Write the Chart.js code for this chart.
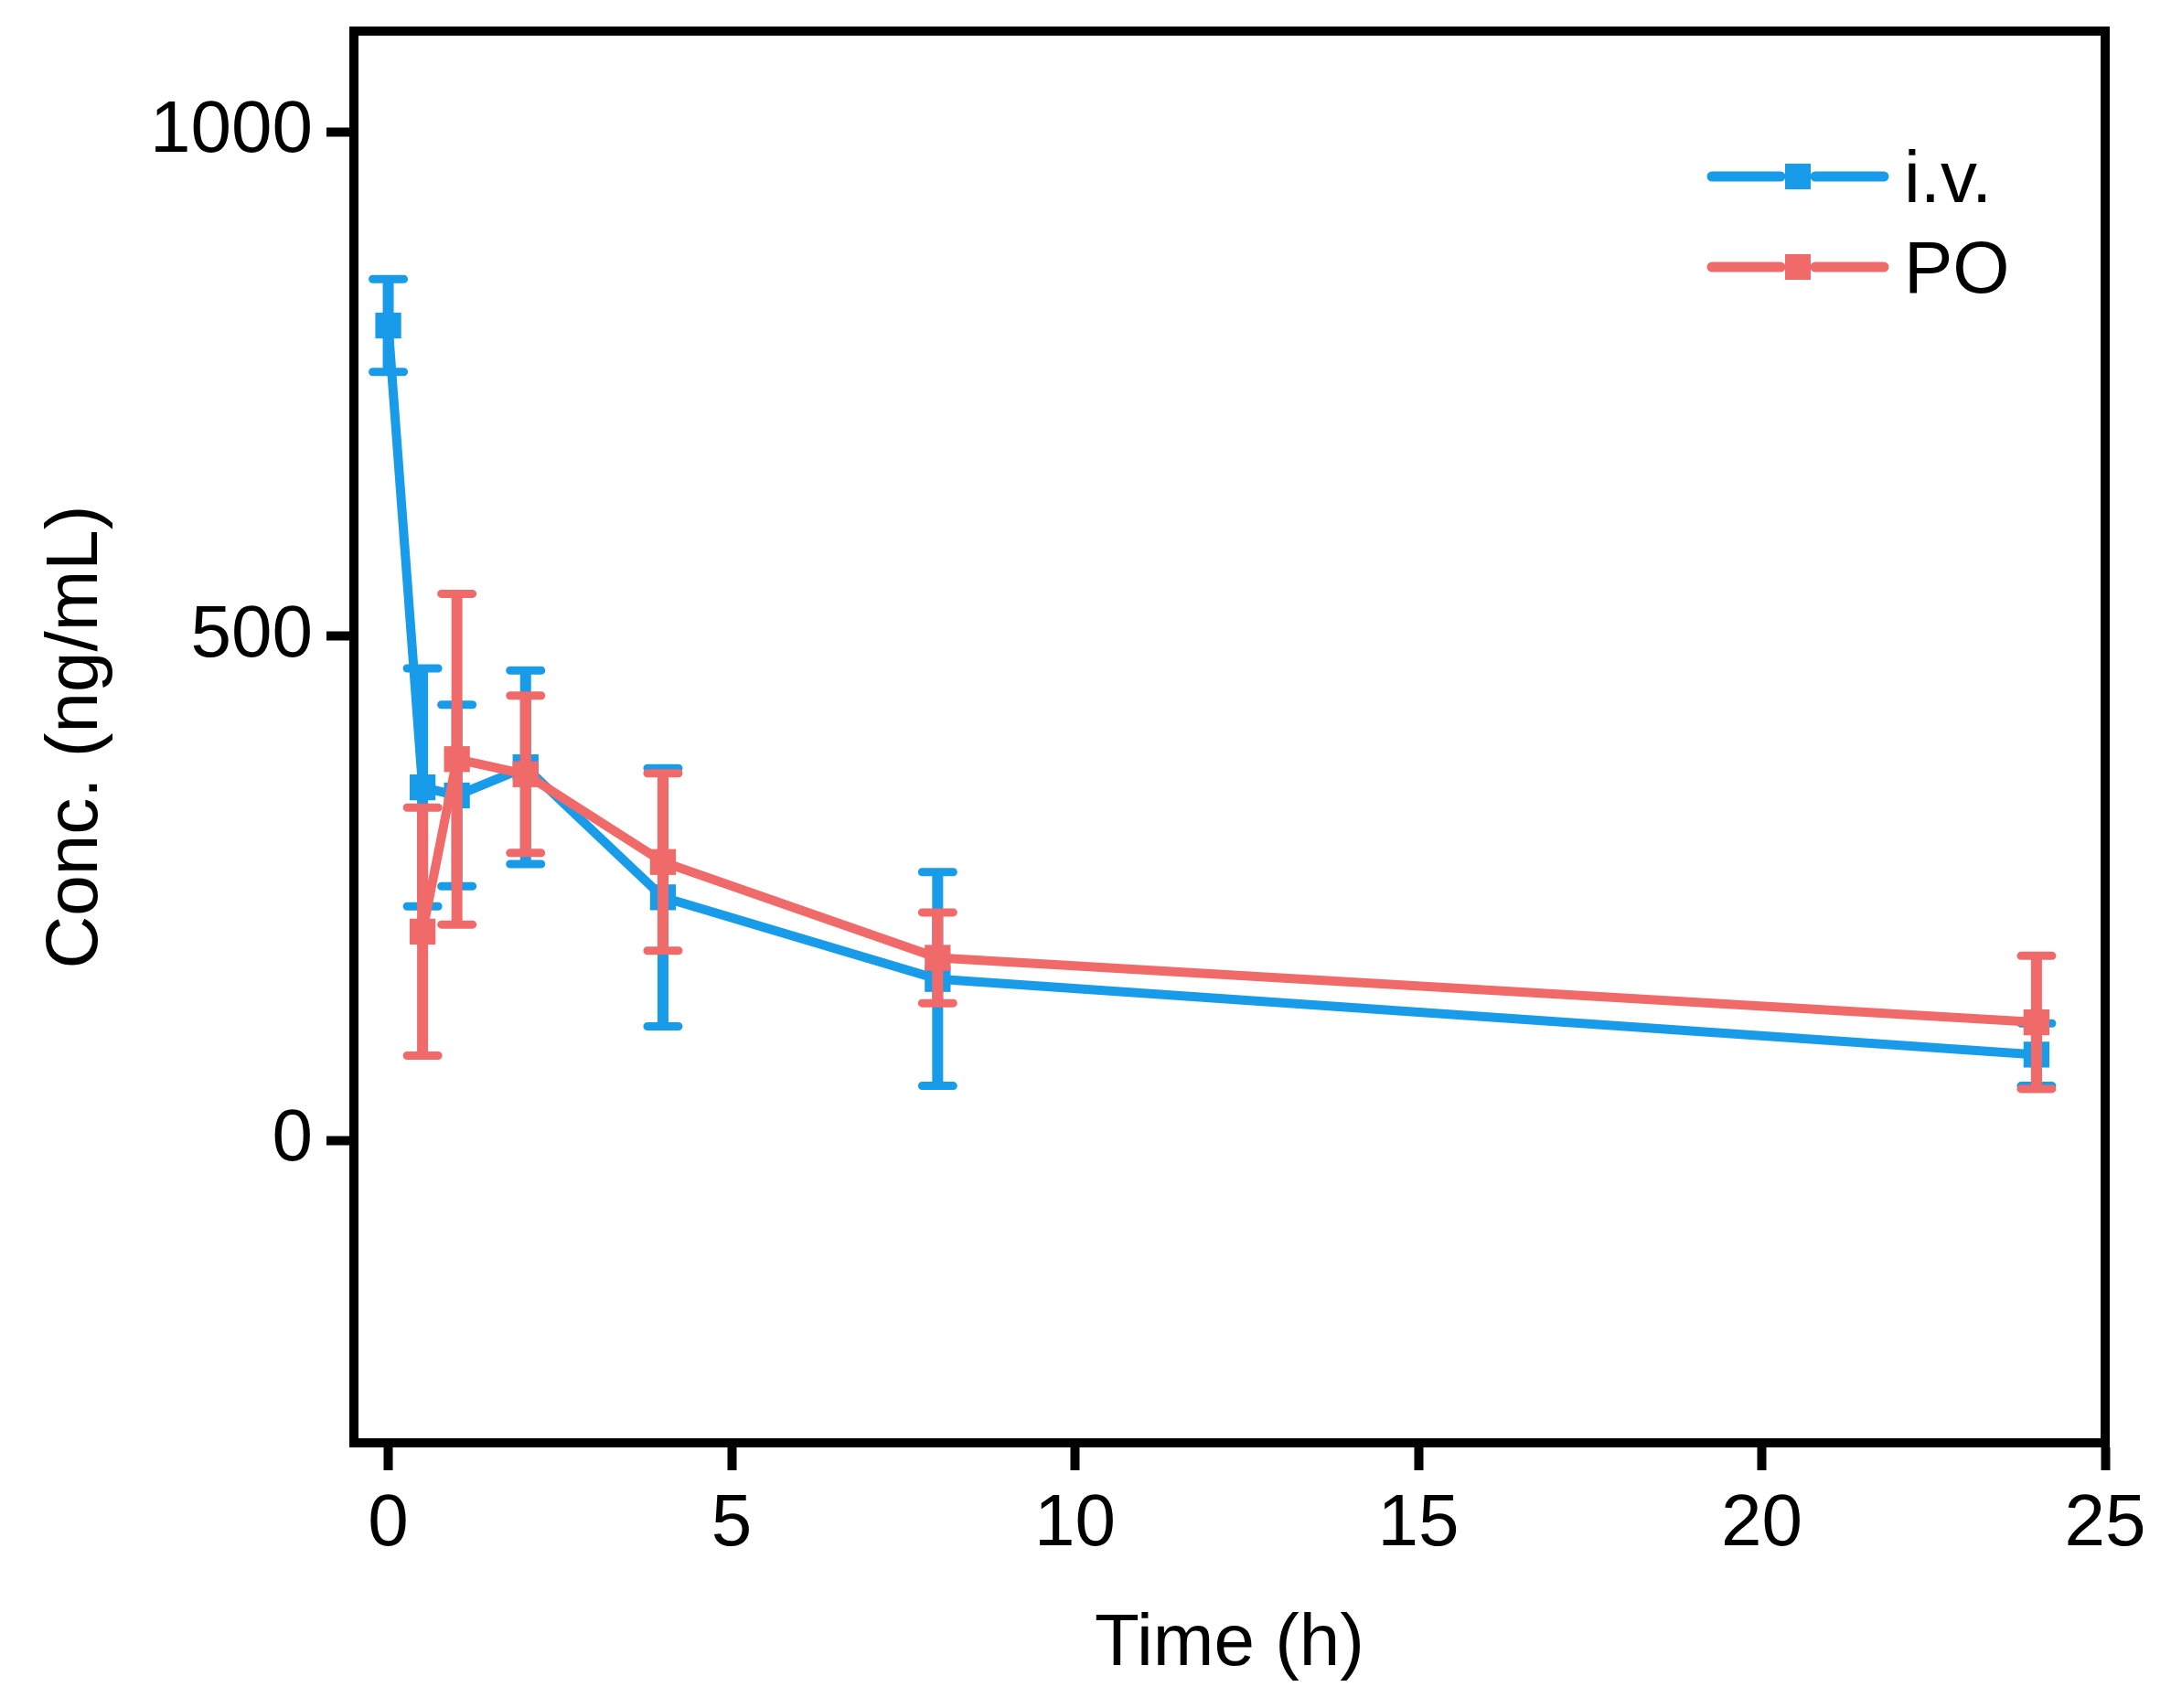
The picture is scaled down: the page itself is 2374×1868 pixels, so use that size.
<!DOCTYPE html>
<html>
<head>
<meta charset="utf-8">
<title>Conc. vs Time</title>
<script src="https://cdn.jsdelivr.net/npm/chart.js@4.4.1/dist/chart.umd.min.js"></script>
<style>
  html, body { margin: 0; padding: 0; background: #fff; overflow: hidden; }
  canvas { display: block; }
</style>
</head>
<body>
<canvas id="pkChart" width="2374" height="1868"></canvas>
<script>
// ====== Data ======
const ivTimes = [0, 0.5, 1, 2, 4, 8, 24];
const ivMean  = [808, 350, 342, 370, 241, 160, 85];
const ivSD    = [46, 118, 90, 96, 128, 106, 31];

const poTimes = [0.5, 1, 2, 4, 8, 24];
const poMean  = [207, 378, 363, 276, 181, 117];
const poSD    = [123, 164, 78, 88, 45, 66];

const xTicks = [0, 5, 10, 15, 20, 25];
const yTicks = [0, 500, 1000];

const BLUE = "#189be8";
const RED = "#f06a6a";

Chart.defaults.font.family = "'Liberation Sans', Arial, sans-serif";
Chart.defaults.color = "#000";

// error bars, drawn under each dataset's own line + markers
const errorBars = {
  id: "errorBars",
  beforeDatasetDraw(chart, args) {
    const ds = chart.data.datasets[args.index];
    if (!ds.sd) return;
    const { ctx, scales: { x, y } } = chart;
    ctx.save();
    ctx.strokeStyle = ds.borderColor;
    ds.data.forEach((p, i) => {
      const px = x.getPixelForValue(p.x);
      const top = y.getPixelForValue(p.y + ds.sd[i]);
      const bot = y.getPixelForValue(p.y - ds.sd[i]);
      ctx.lineWidth = 12;
      ctx.lineCap = "butt";
      ctx.beginPath();
      ctx.moveTo(px, top);
      ctx.lineTo(px, bot);
      ctx.stroke();
      ctx.lineWidth = 9;
      ctx.lineCap = "round";
      ctx.beginPath();
      ctx.moveTo(px - 17, top);
      ctx.lineTo(px + 17, top);
      ctx.moveTo(px - 17, bot);
      ctx.lineTo(px + 17, bot);
      ctx.stroke();
    });
    ctx.restore();
  }
};

// closes the box (top + right) and draws the legend inside the plot
const frameAndLegend = {
  id: "frameAndLegend",
  afterDraw(chart) {
    const { ctx, chartArea: a } = chart;
    ctx.save();
    ctx.strokeStyle = "#000";
    ctx.lineWidth = 10;
    ctx.beginPath();
    ctx.moveTo(a.left - 5, a.top);
    ctx.lineTo(a.right + 5, a.top);
    ctx.moveTo(a.right, a.top - 5);
    ctx.lineTo(a.right, a.bottom + 5);
    ctx.stroke();

    chart.data.datasets.forEach((ds, i) => {
      const ly = a.top + 159 + i * 99;
      const x0 = a.right - 430;
      const mx = x0 + 94;
      ctx.strokeStyle = ds.borderColor;
      ctx.lineWidth = 11;
      ctx.lineCap = "round";
      ctx.beginPath();
      ctx.moveTo(x0, ly);
      ctx.lineTo(mx - 19, ly);
      ctx.moveTo(mx + 19, ly);
      ctx.lineTo(x0 + 188, ly);
      ctx.stroke();
      ctx.fillStyle = ds.borderColor;
      ctx.fillRect(mx - 14, ly - 14, 28, 28);
      ctx.fillStyle = "#000";
      ctx.font = "80px 'Liberation Sans', Arial, sans-serif";
      ctx.textBaseline = "alphabetic";
      ctx.textAlign = "left";
      ctx.fillText(ds.label, x0 + 210, ly + 28);
    });
    ctx.restore();
  }
};

new Chart(document.getElementById("pkChart"), {
  type: "line",
  data: {
    datasets: [
      {
        label: "i.v.",
        data: ivTimes.map((t, i) => ({ x: t, y: ivMean[i] })),
        sd: ivSD,
        borderColor: BLUE,
        backgroundColor: BLUE,
        borderWidth: 10,
        pointStyle: "rect",
        pointRadius: 20,
        pointBorderWidth: 0,
        tension: 0,
        order: 1
      },
      {
        label: "PO",
        data: poTimes.map((t, i) => ({ x: t, y: poMean[i] })),
        sd: poSD,
        borderColor: RED,
        backgroundColor: RED,
        borderWidth: 10,
        pointStyle: "rect",
        pointRadius: 20,
        pointBorderWidth: 0,
        tension: 0,
        order: 0
      }
    ]
  },
  options: {
    responsive: false,
    devicePixelRatio: 1,
    animation: false,
    layout: { padding: { top: 34, right: 72, left: 0, bottom: 0 } },
    plugins: {
      legend: { display: false },
      tooltip: { enabled: false }
    },
    scales: {
      x: {
        type: "linear",
        min: -0.5,
        max: 25,
        afterBuildTicks: axis => { axis.ticks = xTicks.map(v => ({ value: v })); },
        afterFit: axis => { axis.height = 290; axis.paddingLeft = 0; axis.paddingRight = 0; },
        grid: { drawOnChartArea: false, drawTicks: true, tickLength: 30, tickWidth: 10, tickColor: "#000" },
        border: { display: true, width: 10, color: "#000" },
        ticks: { font: { size: 80 }, color: "#000", padding: 12, maxRotation: 0, callback: v => String(v) },
        title: { display: true, text: "Time (h)", font: { size: 80 }, color: "#000", padding: { top: 0, bottom: 21 } }
      },
      y: {
        type: "linear",
        min: -300,
        max: 1100,
        afterBuildTicks: axis => { axis.ticks = yTicks.map(v => ({ value: v })); },
        afterFit: axis => { axis.width = 387; axis.paddingTop = 0; axis.paddingBottom = 0; },
        grid: { drawOnChartArea: false, drawTicks: true, tickLength: 30, tickWidth: 10, tickColor: "#000" },
        border: { display: true, width: 10, color: "#000" },
        ticks: { font: { size: 80 }, color: "#000", padding: 15, callback: v => String(v) },
        title: { display: true, text: "Conc. (ng/mL)", font: { size: 80 }, color: "#000", padding: { top: 36, bottom: 0 } }
      }
    }
  },
  plugins: [errorBars, frameAndLegend]
});
</script>
</body>
</html>
